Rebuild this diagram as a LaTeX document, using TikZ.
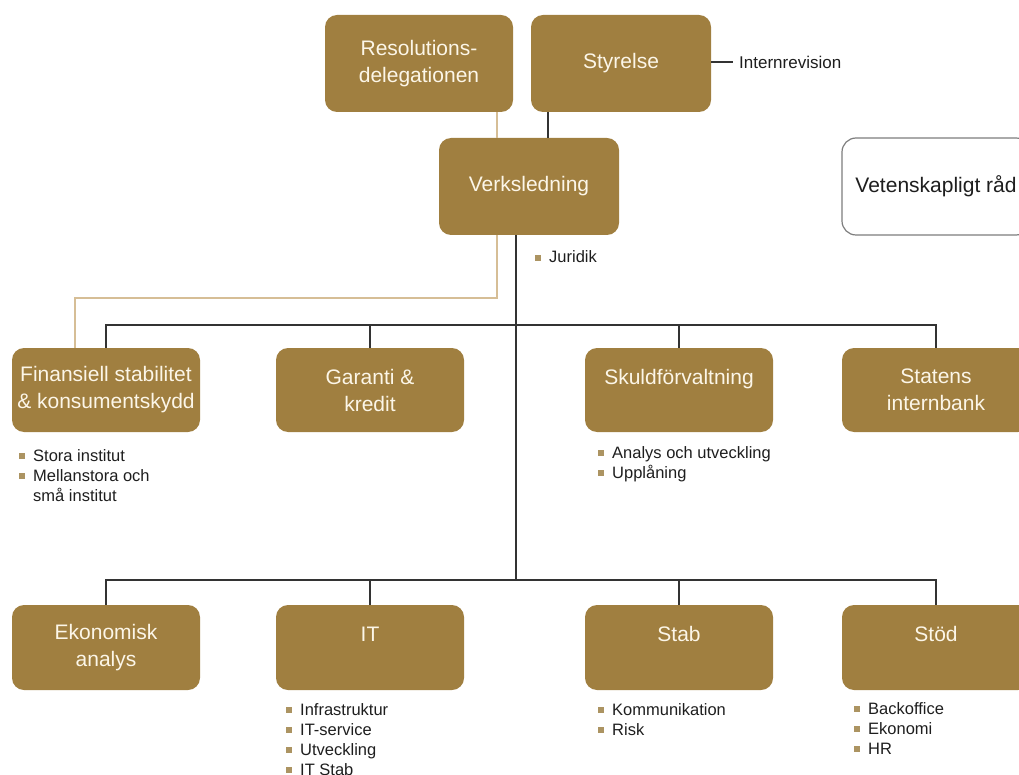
\documentclass[tikz,border=0pt]{standalone}
\usepackage{fontspec}
\setmainfont{Liberation Sans}

\definecolor{gold}{RGB}{160,127,64}
\definecolor{cream}{RGB}{252,246,232}
\definecolor{tanline}{RGB}{214,190,150}
\definecolor{bulgold}{RGB}{172,148,98}
\definecolor{frame}{RGB}{125,125,125}
\definecolor{ink}{RGB}{30,30,30}

\tikzset{
	unit/.style={fill=gold, rounded corners=12pt, text=cream, align=center, minimum width=188pt, inner sep=0pt, font=\fontsize{21}{27}\selectfont},
	advisory/.style={draw=frame, line width=1.2pt, fill=white, rounded corners=14pt, minimum width=188pt, minimum height=97pt, text=ink, font=\fontsize{21}{27}\selectfont},
	trunk/.style={draw=black!80, line width=1.3pt},
	resline/.style={draw=tanline, line width=1.8pt},
	sub/.style={anchor=base west, inner sep=0pt, text=ink, font=\fontsize{16.5}{20}\selectfont},
}
\newcommand{\sq}{\textcolor{bulgold}{\rule[2pt]{6pt}{6pt}}}
\newcommand{\sublist}[1]{\begin{tabular}[t]{@{}l@{\hspace{8pt}}l@{}}#1\end{tabular}}

\begin{document}
\begin{tikzpicture}[x=1pt, y=-1pt]
	\useasboundingbox (0,0) rectangle (1019,775);
	\clip (0,0) rectangle (1019,775);

	% Top level
	\node[unit, minimum height=97pt] (resol) at (419,63.5) {Resolutions-\\delegationen};
	\node[unit, minimum width=180pt, minimum height=97pt] (styr) at (621,63.5) {Styrelse};
	\node[anchor=west, inner sep=6pt, text=ink, font=\fontsize{17}{20}\selectfont] (intrev) at (733,62) {Internrevision};
	\node[unit, minimum width=180pt, minimum height=97pt] (verk) at (529,186.5) {Verksledning};
	\node[advisory] (vet) at (936,186.5) {Vetenskapligt råd};
	\node[sub] (jur) at (535,263) {\sublist{\sq & Juridik}};

	% Departments
	\node[unit, minimum height=84pt] (fin) at (106,390) {Finansiell stabilitet\\\& konsumentskydd};
	\node[unit, minimum height=84pt] (gar) at (370,390) {Garanti \&\\kredit};
	\node[unit, minimum height=84pt] (skuld) at (679,390) {Skuldförvaltning\\~};
	\node[unit, minimum height=84pt] (stat) at (936,390) {Statens\\internbank};

	\node[sub] (finlist) at (19,461) {\sublist{\sq & Stora institut\\ \sq & Mellanstora och\\ & små institut}};
	\node[sub] (skuldlist) at (598,458) {\sublist{\sq & Analys och utveckling\\ \sq & Upplåning}};

	% Support functions
	\node[unit, minimum height=85pt] (ekon) at (106,647.5) {Ekonomisk\\analys};
	\node[unit, minimum height=85pt] (it) at (370,647.5) {IT\\~};
	\node[unit, minimum height=85pt] (stab) at (679,647.5) {Stab\\~};
	\node[unit, minimum height=85pt] (stod) at (936,647.5) {Stöd\\~};

	\node[sub] (itlist) at (286,715) {\sublist{\sq & Infrastruktur\\ \sq & IT-service\\ \sq & Utveckling\\ \sq & IT Stab}};
	\node[sub] (stablist) at (598,715) {\sublist{\sq & Kommunikation\\ \sq & Risk}};
	\node[sub] (stodlist) at (854,714) {\sublist{\sq & Backoffice\\ \sq & Ekonomi\\ \sq & HR}};

	% Lines
	\coordinate (bus1) at (516,325);
	\coordinate (bus2) at (516,580);
	\coordinate (resbend) at (497,298);

	\draw[resline] (resol.south -| resbend) -- (verk.north -| resbend);
	\draw[resline] (verk.south -| resbend) -- (resbend) -| ([xshift=-31pt]fin.north);

	\draw[trunk] ([xshift=-73pt]styr.south) -- ([xshift=-73pt]styr.south |- verk.north);
	\draw[trunk] (styr.east |- intrev.west) -- (intrev.west);
	\draw[trunk] (verk.south -| bus1) -- (bus2);

	\draw[trunk] (fin.north) |- (bus1) -| (stat.north);
	\draw[trunk] (gar.north) -- (gar.north |- bus1);
	\draw[trunk] (skuld.north) -- (skuld.north |- bus1);

	\draw[trunk] (ekon.north) |- (bus2) -| (stod.north);
	\draw[trunk] (it.north) -- (it.north |- bus2);
	\draw[trunk] (stab.north) -- (stab.north |- bus2);
\end{tikzpicture}
\end{document}
